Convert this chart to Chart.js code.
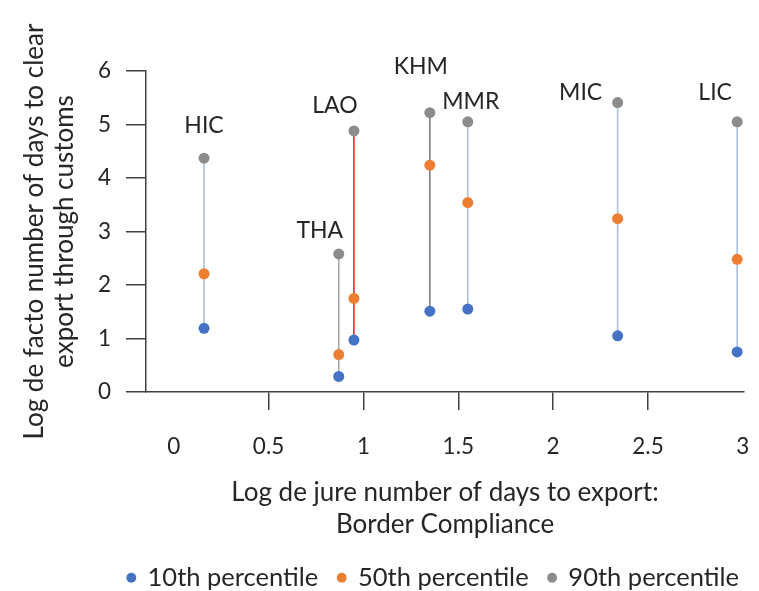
<!DOCTYPE html>
<html>
<head>
<meta charset="utf-8">
<script src="https://cdn.jsdelivr.net/npm/chart.js@4.4.0/dist/chart.umd.min.js"></script>
<style>
  html, body { margin: 0; padding: 0; background: #fff; }
  #wrap { width: 759px; height: 591px; }
</style>
</head>
<body>
<div id="wrap"><canvas id="chart"></canvas></div>
<script>
// groups and their de jure export time (log days)
const groups = ['HIC', 'THA', 'LAO', 'KHM', 'MMR', 'MIC', 'LIC'];
const deJure = [0.16, 0.87, 0.95, 1.35, 1.55, 2.34, 2.97];

// de facto customs clearance time (log days) by percentile
const p10 = [1.19, 0.29, 0.97, 1.51, 1.55, 1.05, 0.75];
const p50 = [2.21, 0.70, 1.75, 4.24, 3.54, 3.24, 2.48];
const p90 = [4.37, 2.58, 4.88, 5.22, 5.05, 5.41, 5.05];

const xTicks = [0, 0.5, 1, 1.5, 2, 2.5, 3];
const yTicks = [0, 1, 2, 3, 4, 5, 6];

const FONT = 'Lato, "Noto Sans", sans-serif';
const TEXT = '#262626';
const AXIS = '#404040';

// connector colours, one per group
const linkColors = ['#a9bfe4', '#a6a6a6', '#e8252b', '#7f7f7f', '#a9bfe4', '#a9bfe4', '#a9bfe4'];

const toPoints = vals => vals.map((v, i) => ({ x: deJure[i], y: v }));

const pointSets = [
  { label: '10th percentile', data: toPoints(p10), color: '#4472c4' },
  { label: '50th percentile', data: toPoints(p50), color: '#ed7d31' },
  { label: '90th percentile', data: toPoints(p90), color: '#8c8c8c' }
].map(s => ({
  type: 'scatter',
  label: s.label,
  data: s.data,
  backgroundColor: s.color,
  borderColor: s.color,
  borderWidth: 0,
  pointRadius: 5.5,
  pointHoverRadius: 5.5,
  order: 0
}));

const links = groups.map((g, i) => ({
  type: 'line',
  label: 'link-' + g,
  data: [{ x: deJure[i], y: p10[i] }, { x: deJure[i], y: p90[i] }],
  borderColor: linkColors[i],
  borderWidth: 1.6,
  pointRadius: 0,
  showLine: true,
  fill: false,
  order: 1
}));

// where each group name sits relative to its 90th percentile dot
const labelShift = {
  HIC: [0, -33], THA: [-19, -23], LAO: [-19, -25], KHM: [-9, -46],
  MMR: [3, -20], MIC: [-37, -10], LIC: [-22, -29]
};

const groupLabels = {
  id: 'groupLabels',
  afterDatasetsDraw(chart) {
    const { ctx, scales } = chart;
    ctx.save();
    ctx.font = '23px ' + FONT;
    ctx.fillStyle = TEXT;
    ctx.textAlign = 'center';
    ctx.textBaseline = 'middle';
    groups.forEach((g, i) => {
      const s = labelShift[g];
      const x = scales.x.getPixelForValue(deJure[i]) + s[0];
      const y = scales.y.getPixelForValue(p90[i]) + s[1];
      ctx.fillText(g, x, y);
    });
    ctx.restore();
  }
};

new Chart(document.getElementById('chart'), {
  data: { datasets: pointSets.concat(links) },
  plugins: [groupLabels],
  options: {
    responsive: true,
    maintainAspectRatio: false,
    animation: false,
    layout: { padding: { top: 71, right: 0, left: 0, bottom: 0 } },
    plugins: {
      tooltip: { enabled: false },
      legend: {
        position: 'bottom',
        align: 'end',
        maxHeight: 46,
        labels: {
          filter: item => !item.text.startsWith('link-'),
          usePointStyle: true,
          pointStyle: 'circle',
          boxWidth: 7,
          boxHeight: 7,
          padding: 20,
          color: TEXT,
          font: { family: FONT, size: 25.5 }
        }
      }
    },
    scales: {
      x: {
        type: 'linear',
        min: -0.146,
        max: 3.006,
        afterBuildTicks: scale => { scale.ticks = xTicks.map(v => ({ value: v })); },
        afterFit: scale => {
          scale.height = 153;
          scale.paddingLeft = 0;
          scale.paddingRight = 15;
        },
        grid: {
          drawOnChartArea: false,
          tickLength: 18,
          lineWidth: 1.5,
          color: c => (c.tick && (c.tick.value === 0 || c.tick.value === 3)) ? 'rgba(0,0,0,0)' : AXIS
        },
        border: { color: AXIS, width: 1.5 },
        ticks: {
          padding: 23,
          maxRotation: 0,
          color: TEXT,
          font: { family: FONT, size: 22.5 },
          callback: v => String(v)
        },
        title: {
          display: true,
          text: ['Log de jure number of days to export:', 'Border Compliance'],
          color: TEXT,
          font: { family: FONT, size: 26, lineHeight: 1.22 },
          padding: { top: 18, bottom: 5 }
        }
      },
      y: {
        type: 'linear',
        min: 0,
        max: 6,
        afterBuildTicks: scale => { scale.ticks = yTicks.map(v => ({ value: v })); },
        afterFit: scale => { scale.width = 146; },
        grid: { drawOnChartArea: false, tickLength: 20, lineWidth: 1.5, color: AXIS },
        border: { color: AXIS, width: 1.5 },
        ticks: { padding: 15, color: TEXT, font: { family: FONT, size: 22.5 } },
        title: {
          display: true,
          text: ['Log de facto number of days to clear', 'export through customs'],
          color: TEXT,
          font: { family: FONT, size: 26, lineHeight: 1.18 },
          padding: { top: 19, bottom: 0 }
        }
      }
    }
  }
});
</script>
</body>
</html>
